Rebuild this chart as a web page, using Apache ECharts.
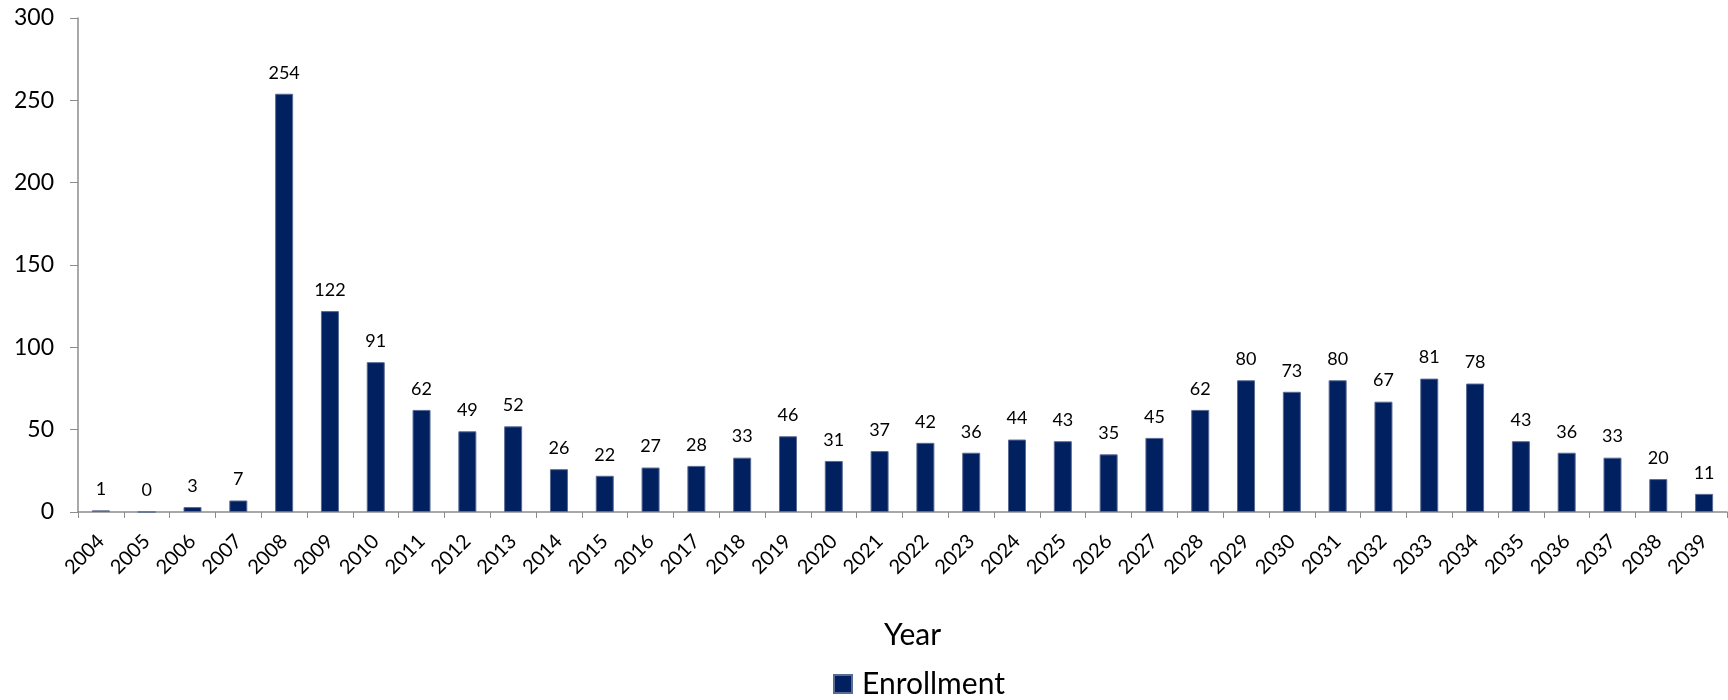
<!DOCTYPE html>
<html>
<head>
<meta charset="utf-8">
<style>
  html, body { margin: 0; padding: 0; background: #fff; }
  #chart { width: 1728px; height: 700px; }
</style>
<script src="https://cdn.jsdelivr.net/npm/echarts@6/dist/echarts.min.js"></script>
</head>
<body>
<div id="chart"></div>
<script>
// Enrollment by year
const years = ['2004','2005','2006','2007','2008','2009','2010','2011','2012','2013','2014','2015',
  '2016','2017','2018','2019','2020','2021','2022','2023','2024','2025','2026','2027','2028','2029',
  '2030','2031','2032','2033','2034','2035','2036','2037','2038','2039'];
const enrollment = [1,0,3,7,254,122,91,62,49,52,26,22,27,28,33,46,31,37,42,36,44,43,35,45,62,80,73,80,67,81,78,43,36,33,20,11];
const yTicks = { min: 0, max: 300, interval: 50 };

const FONT = 'Lato, "Open Sans", sans-serif';
const AXIS_GRAY = '#8c8c8c';

const chart = echarts.init(document.getElementById('chart'));
chart.setOption({
  animation: false,
  textStyle: { fontFamily: FONT },
  grid: { left: 78, right: 1, top: 18, bottom: 188, containLabel: false },
  legend: {
    bottom: -4,
    left: 828,
    icon: 'rect',
    itemWidth: 18,
    itemHeight: 18,
    itemGap: 8,
    textStyle: { fontSize: 30, color: '#000', fontFamily: FONT, padding: [0, 0, 0, 5] },
    data: ['Enrollment']
  },
  xAxis: {
    type: 'category',
    data: years,
    name: 'Year',
    nameLocation: 'middle',
    nameGap: 108,
    nameTextStyle: { fontSize: 30, color: '#000', fontFamily: FONT, padding: [0, 0, 0, 20] },
    axisLine: { lineStyle: { color: AXIS_GRAY, width: 1.5 } },
    axisTick: { show: true, alignWithLabel: false, length: 6, lineStyle: { color: AXIS_GRAY } },
    axisLabel: { rotate: 45, fontSize: 20, color: '#000', margin: 26, fontFamily: FONT, interval: 0 }
  },
  yAxis: {
    type: 'value',
    min: yTicks.min,
    max: yTicks.max,
    interval: yTicks.interval,
    splitLine: { show: false },
    axisLine: { show: true, lineStyle: { color: AXIS_GRAY, width: 1.5 } },
    axisTick: { show: true, length: 8, lineStyle: { color: AXIS_GRAY } },
    axisLabel: { fontSize: 23, color: '#000', margin: 24, fontFamily: FONT }
  },
  series: [{
    name: 'Enrollment',
    type: 'bar',
    data: enrollment,
    barWidth: 18,
    itemStyle: { color: '#002060', borderColor: '#5a6b94', borderWidth: 1 },
    label: {
      show: true,
      position: 'top',
      distance: 12,
      fontSize: 18,
      color: '#000',
      fontFamily: FONT
    }
  }]
});
</script>
</body>
</html>
